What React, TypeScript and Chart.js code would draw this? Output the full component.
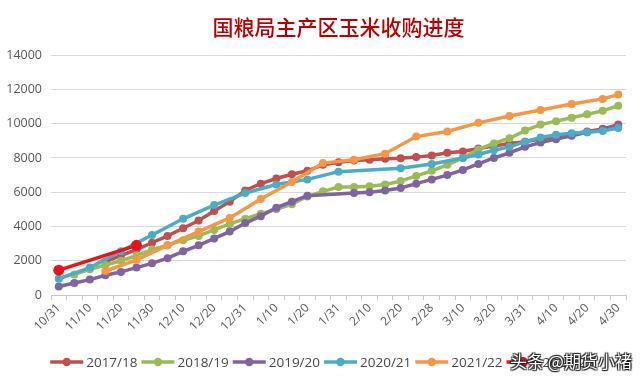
import React, { useEffect, useRef } from 'react';
import { Chart, registerables } from 'chart.js';

Chart.register(...registerables);

const title = '国粮局主产区玉米收购进度';
const watermark = '头条 @期货小褚';

const categories = [
  '10/31', '11/5', '11/10', '11/15', '11/20', '11/25', '11/30',
  '12/5', '12/10', '12/15', '12/20', '12/25', '12/31',
  '1/5', '1/10', '1/15', '1/20', '1/25', '1/31',
  '2/5', '2/10', '2/15', '2/20', '2/25', '2/28',
  '3/5', '3/10', '3/15', '3/20', '3/25', '3/31',
  '4/5', '4/10', '4/15', '4/20', '4/25', '4/30',
];

const seriesNames = ['2017/18', '2018/19', '2019/20', '2020/21', '2021/22', '2022/23'];
const seriesColors = ['#C0504D', '#9BBB59', '#8064A2', '#4BACC6', '#F79646', '#E8141A'];

const s1718 = [null, null, null, 1950, 2300, 2650, 3050, 3450, 3900, 4350, 4900, 5450, 6100,
  6500, 6800, 7050, 7250, 7600, 7750, 7850, 7900, 7950, 7980, 8050, 8150,
  8300, 8380, 8550, 8700, 8850, 8950, 9100, 9250, 9400, 9550, 9700, 9950];
const s1819 = [null, 1200, 1500, 1750, 2000, 2300, 2650, 2900, 3200, 3450, 3800, 4150, 4450,
  4750, 5000, 5300, 5750, 6050, 6300, 6300, 6350, 6450, 6650, 6950, 7250,
  7600, 8000, 8500, 8850, 9150, 9600, 9950, 10150, 10350, 10550, 10750, 11050];
const s1920 = [500, 700, 900, 1150, 1350, 1600, 1850, 2150, 2550, 2900, 3300, 3700, 4200,
  4600, 5100, 5450, 5800, null, null, 5950, 6000, 6100, 6250, 6500, 6750,
  7000, 7300, 7650, 8000, 8300, 8650, 8900, 9100, 9300, 9500, 9650, 9880];
const s2021 = [950, null, 1600, null, 2550, null, 3500, null, 4450, null, 5250, null, 5950,
  null, 6450, null, 6750, null, 7200, null, null, null, 7400, null, 7650,
  null, 8000, 8200, 8450, 8650, 8950, 9200, 9350, 9450, 9500, 9580, 9750];
const s2122 = [null, null, null, 1400, null, 2050, null, 2900, null, 3700, null, 4500, null,
  5600, null, 6600, null, 7700, null, 7900, null, 8250, null, 9250, null,
  9550, null, 10050, null, 10450, null, 10800, null, 11150, null, 11450, 11700];
const s2223 = [1450, null, null, null, null, 2900, null, null, null, null, null, null, null,
  null, null, null, null, null, null, null, null, null, null, null, null,
  null, null, null, null, null, null, null, null, null, null, null, null];

const seriesValues = [s1718, s1819, s1920, s2021, s2122, s2223];

const yMin = 0;
const yMax = 14000;
const yStep = 2000;

const legendPlugin = {
  id: 'excelLegend',
  afterDraw(chart: any) {
    const ctx = chart.ctx as CanvasRenderingContext2D;
    const ds = chart.data.datasets;
    ctx.save();
    ctx.font = '13.5px "Open Sans", "Liberation Sans", sans-serif';
    const lineLen = 33;
    const gapText = 3;
    const gapItem = 4;
    const widths = ds.map((d: any) => lineLen + gapText + ctx.measureText(d.label).width + gapItem);
    const total = widths.reduce((a: number, b: number) => a + b, 0) - gapItem;
    let x = chart.width / 2 - total / 2 + 2;
    const y = 362;
    ds.forEach((d: any, i: number) => {
      ctx.strokeStyle = d.borderColor;
      ctx.lineWidth = 3.5;
      ctx.beginPath();
      ctx.moveTo(x, y);
      ctx.lineTo(x + lineLen, y);
      ctx.stroke();
      ctx.fillStyle = d.borderColor;
      ctx.beginPath();
      ctx.arc(x + lineLen / 2, y, i === 5 ? 5 : 4.2, 0, Math.PI * 2);
      ctx.fill();
      ctx.fillStyle = '#4a4a4a';
      ctx.textBaseline = 'middle';
      ctx.textAlign = 'left';
      ctx.fillText(d.label, x + lineLen + gapText, y + 1);
      x += widths[i];
    });
    ctx.restore();
  },
};

export default function App() {
  const ref = useRef<HTMLCanvasElement | null>(null);

  useEffect(() => {
    document.body.style.margin = '0';
    document.body.style.background = '#ffffff';
    const canvas = ref.current;
    if (!canvas) return;
    const chart = new Chart(canvas, {
      type: 'line',
      data: {
        labels: categories,
        datasets: seriesValues.map((vals, k) => ({
          label: seriesNames[k],
          data: vals,
          borderColor: seriesColors[k],
          backgroundColor: seriesColors[k],
          pointBackgroundColor: seriesColors[k],
          pointBorderWidth: 0,
          pointRadius: k === 5 ? 5.5 : 4,
          borderWidth: 3.5,
          spanGaps: true,
          tension: 0,
          order: 5 - k,
        })),
      },
      plugins: [legendPlugin],
      options: {
        animation: false,
        responsive: true,
        maintainAspectRatio: false,
        layout: { padding: { left: 0, right: 14, top: 0, bottom: 32 } },
        plugins: {
          legend: { display: false },
          tooltip: { enabled: false },
          title: {
            display: true,
            text: title,
            fullSize: false,
            color: '#C00000',
            font: { family: '"Noto Sans CJK SC", sans-serif', size: 21, weight: '500' },
            padding: { top: 14, bottom: 16 },
          },
        },
        scales: {
          x: {
            type: 'category',
            offset: true,
            grid: {
              offset: true,
              drawOnChartArea: false,
              drawTicks: true,
              tickLength: 5,
              color: '#C8C8C8',
            },
            border: { display: true, color: '#C8C8C8' },
            ticks: {
              autoSkip: false,
              minRotation: 45,
              maxRotation: 45,
              padding: 1,
              color: '#595959',
              font: { family: '"Open Sans", "Liberation Sans", sans-serif', size: 12 },
              callback: (_v: any, i: number) => (i % 2 === 0 ? categories[i] : ''),
            },
            afterFit: (scale: any) => {
              scale.height = 54;
            },
          },
          y: {
            min: yMin,
            max: yMax,
            grid: { color: '#D9D9D9', drawTicks: false, lineWidth: 1 },
            border: { display: false },
            ticks: {
              stepSize: yStep,
              padding: 9,
              color: '#595959',
              font: { family: '"Open Sans", "Liberation Sans", sans-serif', size: 12.5 },
              callback: (v: any) => String(v),
            },
            afterFit: (scale: any) => {
              scale.width = 51;
            },
          },
        },
      },
    });
    return () => chart.destroy();
  }, []);

  return (
    <div style={{ position: 'relative', width: 640, height: 381 }}>
      <canvas ref={ref} />
      <div
        style={{
          position: 'absolute',
          left: 510,
          top: 348,
          fontFamily: '"Noto Sans CJK SC", sans-serif',
          fontSize: 17,
          color: '#ffffff',
          whiteSpace: 'nowrap',
          textShadow: '0 0 1px #222, 1px 1px 1px #222, -1px -1px 1px #222, 1px -1px 1px #222, -1px 1px 1px #222',
        }}
      >
        {watermark}
      </div>
    </div>
  );
}
